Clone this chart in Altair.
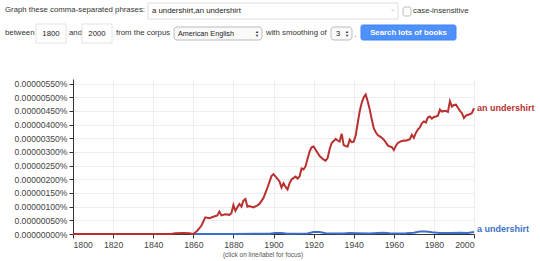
import altair as alt
import pandas as pd

# ---- data (values in units of 0.000001 %) ----
an_years = [1800, 1849, 1851, 1855, 1858, 1860, 1862, 1864, 1866, 1868, 1870, 1872, 1873, 1874, 1876,
            1878, 1879, 1880, 1881, 1882, 1883, 1884, 1885, 1886, 1887, 1888, 1890, 1892, 1893, 1895,
            1897, 1899, 1900, 1902, 1903, 1904, 1905, 1906, 1907, 1908, 1909, 1911, 1912, 1913, 1914,
            1915, 1916, 1917, 1918, 1919, 1920, 1921, 1923, 1925, 1926, 1927, 1928, 1929, 1930, 1931,
            1932, 1933, 1934, 1935, 1936, 1937, 1938, 1939, 1940, 1941, 1942, 1943, 1944, 1945, 1946,
            1947, 1948, 1949, 1950, 1951, 1952, 1953, 1954, 1955, 1956, 1957, 1958, 1959, 1960, 1961,
            1962, 1963, 1964, 1965, 1966, 1967, 1968, 1969, 1970, 1971, 1972, 1973, 1974, 1975, 1976,
            1977, 1978, 1979, 1980, 1981, 1982, 1983, 1984, 1985, 1986, 1987, 1988, 1989, 1990, 1991,
            1992, 1993, 1994, 1995, 1996, 1997, 1998, 1999, 2000]
an_values = [0, 0, 0.03, 0.04, 0.03, 0, 0.12, 0.3, 0.61, 0.58, 0.63, 0.68, 0.82, 0.68, 0.72,
             0.70, 0.76, 1.06, 0.85, 0.98, 1.1, 1.0, 1.22, 1.28, 1.0, 1.02, 0.97, 1.05, 1.1, 1.32,
             1.7, 2.12, 2.19, 2.02, 1.92, 1.7, 1.86, 1.72, 1.63, 1.85, 2.0, 2.1, 2.03, 2.1, 2.4,
             2.36, 2.48, 2.75, 3.02, 3.17, 3.2, 3.08, 2.85, 2.72, 2.68, 2.78, 3.1, 3.33, 3.4, 3.48,
             3.42, 3.38, 3.67, 3.25, 3.22, 3.2, 3.45, 3.36, 3.38, 3.6, 4.06, 4.49, 4.8, 5.0, 5.1,
             4.85, 4.55, 4.2, 3.87, 3.72, 3.62, 3.57, 3.52, 3.45, 3.35, 3.24, 3.2, 3.18, 3.07, 3.22,
             3.33, 3.37, 3.4, 3.42, 3.41, 3.44, 3.47, 3.63, 3.52, 3.7, 3.82, 3.9, 4.05, 4.12, 4.08,
             4.26, 4.3, 4.22, 4.28, 4.3, 4.33, 4.55, 4.48, 4.5, 4.5, 4.47, 4.86, 4.66, 4.72, 4.73,
             4.62, 4.5, 4.42, 4.24, 4.33, 4.36, 4.38, 4.43, 4.6]

a_years = [1859, 1880, 1898, 1901, 1904, 1907, 1917, 1920, 1923, 1926, 1935, 1938, 1942, 1948,
           1952, 1955, 1958, 1962, 1966, 1970, 1973, 1976, 1979, 1983, 1988, 1993, 1997, 2000]
a_values = [0, 0, 0.01, 0.04, 0.04, 0.01, 0.02, 0.07, 0.07, 0.03, 0.02, 0.04, 0.03, 0.02,
            0.04, 0.05, 0.03, 0.02, 0.03, 0.05, 0.09, 0.09, 0.06, 0.04, 0.04, 0.05, 0.04, 0.07]

y_ticks = [0, 0.5, 1, 1.5, 2, 2.5, 3, 3.5, 4, 4.5, 5, 5.5]
x_ticks = [1800, 1820, 1840, 1860, 1880, 1900, 1920, 1940, 1960, 1980, 2000]

RED = "#b8312f"
BLUE = "#3d6fc9"
FONT = "Liberation Sans"
OX, OY = 73, 79  # plot origin in page pixels

an_df = pd.DataFrame({"year": an_years, "v": an_values, "phrase": "an undershirt"})
a_df = pd.DataFrame({"year": a_years, "v": a_values, "phrase": "a undershirt"})

xsc = alt.Scale(domain=[1800, 2000], nice=False, zero=False)
ysc = alt.Scale(domain=[0, 5.67], nice=False)

x_enc = alt.X("year:Q", scale=xsc, axis=alt.Axis(
    values=x_ticks, format="d", title=None, grid=True, gridColor="#eeeeee",
    domainColor="#333333", tickColor="#333333", tickSize=4, labelColor="#444444",
    labelFontSize=8.7, labelFont=FONT, labelPadding=2, labelOverlap=False))
y_enc = alt.Y("v:Q", scale=ysc, axis=alt.Axis(
    values=y_ticks, title=None, grid=True, gridColor="#eeeeee",
    labelExpr="format(datum.value/1000000, '.8f') + '%'",
    domainColor="#333333", tickColor="#333333", tickSize=4, labelColor="#444444",
    labelFontSize=8.6, labelFont=FONT, labelPadding=2, labelOverlap=False))

blue_line = alt.Chart(a_df).mark_line(color=BLUE, strokeWidth=2).encode(x=x_enc, y=y_enc)
red_line = alt.Chart(an_df).mark_line(color=RED, strokeWidth=2).encode(x=x_enc, y=y_enc)

an_last = an_df.tail(1)
a_last = a_df.tail(1)
red_lab = alt.Chart(an_last).mark_text(align="left", dx=3, fontWeight="bold", fontSize=9,
                                       font=FONT, color=RED).encode(
    x=x_enc, y=y_enc, text="phrase:N")
blue_lab = alt.Chart(a_last).mark_text(align="left", dx=3, dy=-3, fontWeight="bold", fontSize=9,
                                       font=FONT, color=BLUE).encode(
    x=x_enc, y=y_enc, text="phrase:N")

dummy = pd.DataFrame({"d": [0]})


def txt(s, X, Y, size=7.8, color="#333333", align="left", weight="normal"):
    return alt.Chart(dummy).mark_text(text=s, align=align, baseline="middle", fontSize=size,
                                      font=FONT, color=color, fontWeight=weight).encode(
        x=alt.value(X - OX), y=alt.value(Y - OY))


def box(X1, Y1, X2, Y2, fill="white", stroke="#dddddd", r=0):
    return alt.Chart(dummy).mark_rect(fill=fill, stroke=stroke, strokeWidth=1, cornerRadius=r).encode(
        x=alt.value(X1 - OX), x2=alt.value(X2 - OX), y=alt.value(Y1 - OY), y2=alt.value(Y2 - OY))


ui = [
    txt("Graph these comma-separated phrases:", 5, 10),
    box(148, 3, 398, 19),
    txt("a undershirt,an undershirt", 152, 11, color="#222222"),
    txt("⌄", 393, 9, size=7, color="#bbbbbb", align="center"),
    box(403, 7, 411, 16, stroke="#bbbbbb", r=2),
    txt("case-insensitive", 413, 11),
    txt("between", 5, 33),
    box(36, 24, 66, 43, stroke="#e3e3e3"),
    txt("1800", 51, 34, color="#222222", align="center"),
    txt("and", 69, 33),
    box(82, 24, 112, 43, stroke="#e3e3e3"),
    txt("2000", 97, 34, color="#222222", align="center"),
    txt("from the corpus", 116, 33),
    box(174, 27, 262, 40, fill="#fafafa", stroke="#bbbbbb", r=3),
    txt("American English", 178, 33.5, size=7.2, color="#222222"),
    txt("▲", 257, 31.5, size=4, color="#333333", align="center"),
    txt("▼", 257, 35.5, size=4, color="#333333", align="center"),
    txt("with smoothing of", 266, 33),
    box(331, 27, 352, 40, fill="#fafafa", stroke="#bbbbbb", r=3),
    txt("3", 338, 33.5, size=7.5, color="#222222", align="center"),
    txt("▲", 347, 31.5, size=4, color="#333333", align="center"),
    txt("▼", 347, 35.5, size=4, color="#333333", align="center"),
    txt(".", 354, 35),
    box(361, 25, 456, 40, fill="#4d90fe", stroke="#3f84f0", r=2),
    txt("Search lots of books", 408.5, 32.5, size=7.8, color="white", align="center", weight="bold"),
    txt("(click on line/label for focus)", 263, 255, size=6.5, color="#555555", align="center"),
]

chart = alt.layer(blue_line, red_line, red_lab, blue_lab, *ui).properties(
    width=401, height=155, autosize="none",
    padding={"left": 73, "top": 79, "right": 66, "bottom": 27},
    background="white",
).configure_view(stroke=None)

chart.save("out.html", embed_options={"renderer": "svg", "actions": False})
